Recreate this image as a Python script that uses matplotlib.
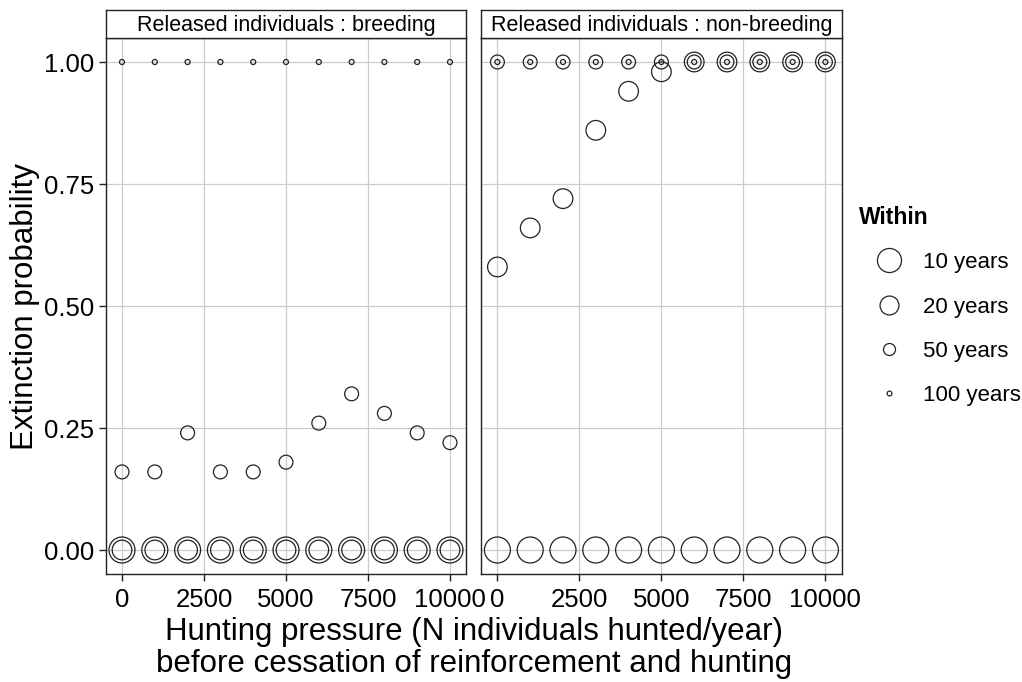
import matplotlib
matplotlib.use("Agg")
import matplotlib.pyplot as plt
from matplotlib.lines import Line2D

plt.rcParams['font.family'] = ['Liberation Sans', 'DejaVu Sans']

hunting = [0, 1000, 2000, 3000, 4000, 5000, 6000, 7000, 8000, 9000, 10000]
horizons = ["10 years", "20 years", "50 years", "100 years"]
panels = ["Released individuals : breeding", "Released individuals : non-breeding"]

breeding_10 = [0, 0, 0, 0, 0, 0, 0, 0, 0, 0, 0]
breeding_20 = [0, 0, 0, 0, 0, 0, 0, 0, 0, 0, 0]
breeding_50 = [0.16, 0.16, 0.24, 0.16, 0.16, 0.18, 0.26, 0.32, 0.28, 0.24, 0.22]
breeding_100 = [1, 1, 1, 1, 1, 1, 1, 1, 1, 1, 1]

nonbreeding_10 = [0, 0, 0, 0, 0, 0, 0, 0, 0, 0, 0]
nonbreeding_20 = [0.58, 0.66, 0.72, 0.86, 0.94, 0.98, 1, 1, 1, 1, 1]
nonbreeding_50 = [1, 1, 1, 1, 1, 1, 1, 1, 1, 1, 1]
nonbreeding_100 = [1, 1, 1, 1, 1, 1, 1, 1, 1, 1, 1]

data = [
    [breeding_10, breeding_20, breeding_50, breeding_100],
    [nonbreeding_10, nonbreeding_20, nonbreeding_50, nonbreeding_100],
]
sizes = [350, 200, 100, 13]
legend_sizes = [300, 185, 75, 12]

fig = plt.figure(figsize=(10.22, 6.82), dpi=100)
W, H = 1022, 682
left_px = [105.6, 481.0]
width_px = 360.8
top_px, bottom_px = 37.6, 574.4
strip_top = 10.0

axes = []
for i in range(2):
    ax = fig.add_axes([left_px[i] / W, 1 - bottom_px / H, width_px / W, (bottom_px - top_px) / H])
    axes.append(ax)
    for j, vals in enumerate(data[i]):
        ax.scatter(hunting, vals, s=sizes[j], facecolors='none', edgecolors='#222222',
                   linewidths=0.9, zorder=3)
    ax.set_xlim(-500, 10500)
    ax.set_ylim(-0.05, 1.05)
    ax.set_xticks([0, 2500, 5000, 7500, 10000])
    ax.set_yticks([0, 0.25, 0.5, 0.75, 1.0])
    ax.set_yticklabels(["0.00", "0.25", "0.50", "0.75", "1.00"])
    ax.grid(True, color='#cccccc', linewidth=0.9, zorder=0)
    ax.set_axisbelow(True)
    for sp in ax.spines.values():
        sp.set_color('#222222')
        sp.set_linewidth(1.0)
    ax.tick_params(axis='both', direction='out', length=5, width=1.0, color='#222222',
                   labelsize=18.5, labelcolor='black', pad=3)
    ax.tick_params(axis='x', pad=5)
    if i == 1:
        ax.tick_params(axis='y', left=False, labelleft=False)
    # strip
    sax = fig.add_axes([left_px[i] / W, 1 - top_px / H, width_px / W, (top_px - strip_top) / H])
    sax.set_xticks([]); sax.set_yticks([])
    for sp in sax.spines.values():
        sp.set_color('#222222')
        sp.set_linewidth(1.0)
    sax.text(0.5, 0.45, panels[i], ha='center', va='center', fontsize=15.5, transform=sax.transAxes)

axes[0].set_ylabel("Extinction probability", fontsize=22.5, labelpad=3)
fig.text((105.6 + 841.8) / 2 / W, 1 - 648 / H,
         "Hunting pressure (N individuals hunted/year)\nbefore cessation of reinforcement and hunting",
         ha='center', va='center', fontsize=22.5, linespacing=1.05)

handles = [Line2D([], [], linestyle='none', marker='o', markerfacecolor='none',
                  markeredgecolor='#222222', markeredgewidth=0.9, markersize=(s ** 0.5))
           for s in legend_sizes]
leg = fig.legend(handles, horizons, title="Within", loc='upper left',
                 bbox_to_anchor=(850 / W, 1 - 197 / H), frameon=False, fontsize=16,
                 title_fontsize=16.5, labelspacing=1.05, handletextpad=0.2,
                 handlelength=2.7, alignment='left', borderaxespad=0)
leg.get_title().set_fontweight('bold')

fig.savefig("out.png", dpi=100)
